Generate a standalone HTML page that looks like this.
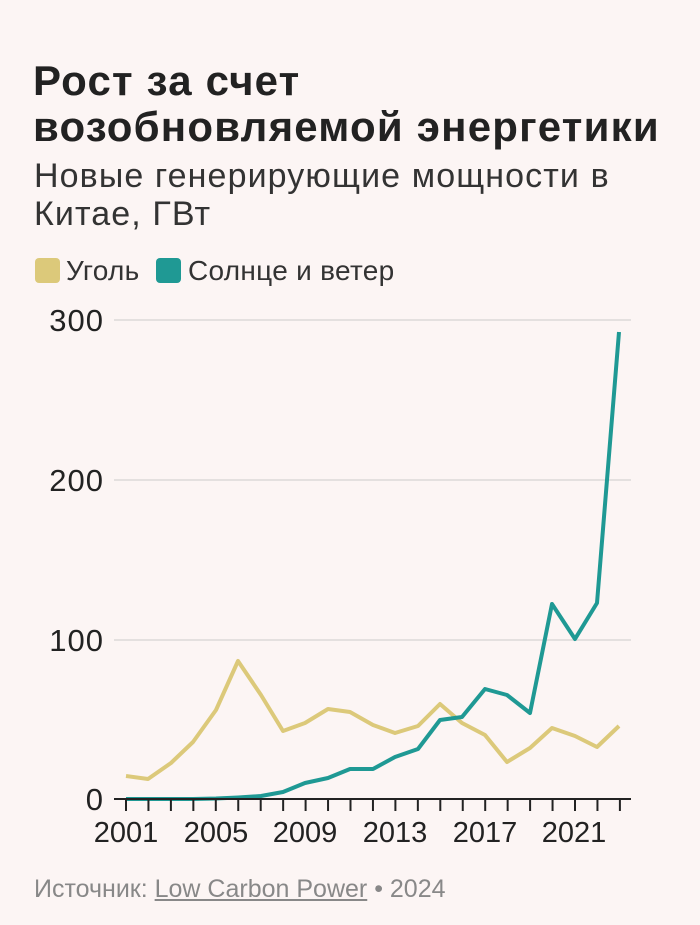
<!DOCTYPE html>
<html><head><meta charset="utf-8"><style>
body{margin:0;background:#fcf5f4;}
.w{position:relative;width:700px;height:925px;background:#fcf5f4;font-family:"Liberation Sans",sans-serif;color:#222;overflow:hidden}
.t{position:absolute;left:33px;top:58px;font-size:42px;font-weight:bold;line-height:46px;letter-spacing:1.2px}
.s{position:absolute;left:34px;top:157px;font-size:34px;line-height:38px;color:#333;letter-spacing:1.1px}
.l{position:absolute;top:255px;font-size:28px;color:#333;letter-spacing:0.3px}
.sw{position:absolute;top:258px;width:25px;height:25px;border-radius:4px}
.src{position:absolute;left:34px;top:875px;font-size:25px;color:#888}
.src u{text-decoration-color:#888}
</style></head><body><div class="w">
<div class="t">Рост за счет<br>возобновляемой энергетики</div>
<div class="s">Новые генерирующие мощности в<br>Китае, ГВт</div>
<div class="sw" style="left:35px;background:#dcc97a"></div><div class="l" style="left:66px">Уголь</div>
<div class="sw" style="left:156px;background:#1f9994"></div><div class="l" style="left:188px">Солнце и ветер</div>
<svg width="700" height="925" style="position:absolute;left:0;top:0">
<g stroke="#e4e0df" stroke-width="2">
<line x1="114" x2="631" y1="320" y2="320"/><line x1="114" x2="631" y1="480" y2="480"/><line x1="114" x2="631" y1="640" y2="640"/></g>
<g font-family="Liberation Sans" font-size="31" fill="#222" text-anchor="end" letter-spacing="1">
<text x="104" y="331">300</text><text x="104" y="491">200</text><text x="104" y="651">100</text><text x="104" y="810">0</text></g>
<polyline fill="none" stroke="#dcc97a" stroke-width="4" stroke-linejoin="round" points="126,776 148,779 171,763 193,742 216,710 238,661 261,695 283,731 305,723 328,709 350,712 373,725 395,733 418,726 440,704 462,723 485,735 507,762 530,748 552,728 575,736 597,747 619,726"/>
<polyline fill="none" stroke="#1f9994" stroke-width="4" stroke-linejoin="round" points="126,799 148,799 171,799 193,799 216,798.5 238,797.5 261,796 283,792 305,783 328,778 350,769 373,769 395,757 418,749 440,720 462,717 485,689 507,695 530,713 552,604 575,639 597,603 619,332"/>
<line x1="114" x2="631" y1="799" y2="799" stroke="#222" stroke-width="2"/>
<g stroke="#222" stroke-width="2" id="tk"></g>
<g font-family="Liberation Sans" font-size="29" fill="#222" text-anchor="middle">
<text x="126" y="842">2001</text><text x="216" y="842">2005</text><text x="305" y="842">2009</text><text x="395" y="842">2013</text><text x="485" y="842">2017</text><text x="574" y="842">2021</text></g>
</svg>
<div class="src">Источник: <u>Low Carbon Power</u> • 2024</div>
</div>
<script>
var g=document.getElementById('tk'),s='';
for(var i=0;i<23;i++){var x=126+i*22.45;s+='<line x1="'+x+'" x2="'+x+'" y1="799" y2="811"/>';}
g.innerHTML=s;
</script>
</body></html>
